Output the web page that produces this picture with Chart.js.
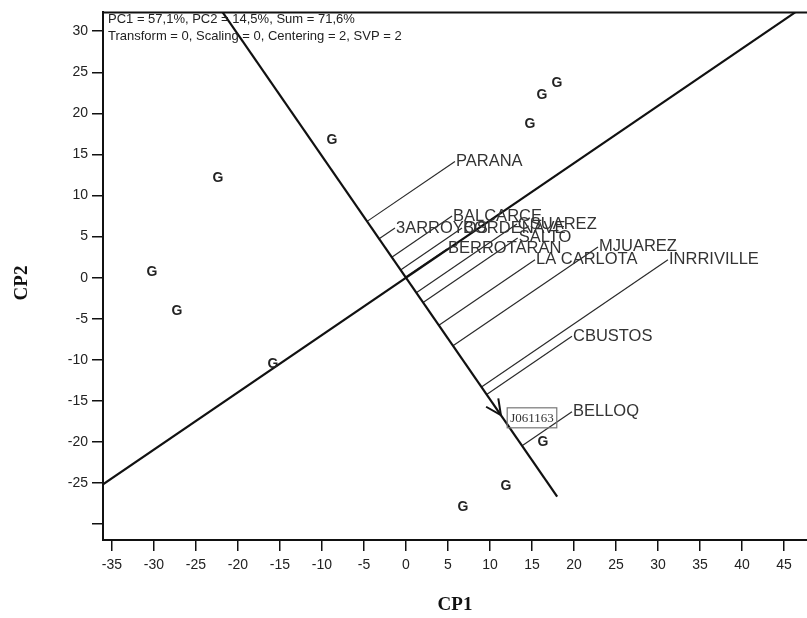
<!DOCTYPE html>
<html><head><meta charset="utf-8">
<script src="https://cdn.jsdelivr.net/npm/chart.js@4.4.0/dist/chart.umd.min.js"></script>
<style>html,body{margin:0;padding:0;background:#fff;}</style>
</head><body>
<canvas id="c" width="807" height="618"></canvas>
<script>
// ---- data ----
const xTicks = [-35,-30,-25,-20,-15,-10,-5,0,5,10,15,20,25,30,35,40,45];
const yTicks = [30,25,20,15,10,5,0,-5,-10,-15,-20,-25,-30];
const xRange = [-36.07, 47.74];
const yRange = [-31.92, 32.29];

const genoX = [17.98, 16.19, 14.76, -8.81, -22.38, -30.24, -27.26, -15.83, 16.31, 11.90, 6.79];
const genoY = [23.70, 22.25, 18.74, 16.69, 12.09, 0.73, -4.11, -10.52, -19.95, -25.39, -27.93];
const highlightName = 'J061163';
const highlightX = 15.0;
const highlightY = -17.05;

const envNames = ['PARANA','3ARROYOS','BALCARCE','BORDENAVE','CSUAREZ','SALTO','BERROTARAN','LA CARLOTA','MJUAREZ','INRRIVILLE','CBUSTOS','BELLOQ'];
const envX = [5.83, -1.31, 5.48, 6.67, 13.2, 13.3, 4.88, 15.36, 22.86, 31.19, 19.76, 19.76];
const envY = [14.15, 6.05, 7.50, 6.05, 6.53, 4.84, 3.51, 2.18, 3.75, 2.18, -7.13, -16.32];

const atcSlope = 0.697;     // average-environment axis through origin
const ordSlope = -1.48;     // perpendicular axis through origin
const ordEndX = 18.0;       // lower end of perpendicular axis
const arrowX = 11.3;        // arrow tip on perpendicular axis

const annot1 = 'PC1 = 57,1%, PC2 = 14,5%, Sum = 71,6%';
const annot2 = 'Transform = 0, Scaling = 0, Centering = 2, SVP = 2';

// ---- datasets ----
const lineStyle = {showLine:true, pointRadius:0, borderColor:'#111', borderWidth:2.2, fill:false};
const datasets = [];
datasets.push(Object.assign({data:[{x:xRange[0], y:atcSlope*xRange[0]}, {x:yRange[1]/atcSlope, y:yRange[1]}]}, lineStyle));
datasets.push(Object.assign({data:[{x:yRange[1]/ordSlope, y:yRange[1]}, {x:ordEndX, y:ordSlope*ordEndX}]}, lineStyle));
envNames.forEach((n,i)=>{
  const fx = (envY[i] - atcSlope*envX[i])/(ordSlope - atcSlope);
  const fy = ordSlope*fx;
  datasets.push({data:[{x:fx,y:fy},{x:envX[i],y:envY[i]}], showLine:true, pointRadius:0, borderColor:'#2a2a2a', borderWidth:1.2, fill:false});
});
datasets.push({data: genoX.map((x,i)=>({x, y:genoY[i]})), pointRadius:0, showLine:false});

const F = 'Liberation Sans, Arial, sans-serif';
const labelPlugin = {
  id:'labels',
  afterDraw(chart){
    const ctx = chart.ctx, xs = chart.scales.x, ys = chart.scales.y, ca = chart.chartArea;
    const px = v=>xs.getPixelForValue(v), py = v=>ys.getPixelForValue(v);
    ctx.save();
    // top border
    ctx.strokeStyle='#111'; ctx.lineWidth=2;
    ctx.beginPath(); ctx.moveTo(ca.left, ca.top); ctx.lineTo(ca.right, ca.top); ctx.stroke();
    // arrow
    const tx = px(arrowX), ty = py(ordSlope*arrowX);
    const dx = px(ordEndX)-px(0), dy = py(ordSlope*ordEndX)-py(0);
    const ang = Math.atan2(dy, dx);
    ctx.lineWidth=2;
    ctx.beginPath();
    ctx.moveTo(tx - 17*Math.cos(ang-0.45), ty - 17*Math.sin(ang-0.45));
    ctx.lineTo(tx, ty);
    ctx.lineTo(tx - 17*Math.cos(ang+0.45), ty - 17*Math.sin(ang+0.45));
    ctx.stroke();
    // genotype G labels
    ctx.fillStyle='#222'; ctx.font='bold 14px '+F; ctx.textAlign='center'; ctx.textBaseline='middle';
    genoX.forEach((x,i)=>ctx.fillText('G', px(x), py(genoY[i])));
    // highlighted genotype box
    ctx.font='13px Liberation Serif, Times New Roman, serif';
    const hx = px(highlightX), hy = py(highlightY);
    const w = ctx.measureText(highlightName).width + 6;
    ctx.fillStyle='#333'; ctx.fillText(highlightName, hx, hy+1);
    ctx.strokeStyle='#777'; ctx.lineWidth=1.2;
    ctx.strokeRect(hx - w/2, hy - 10, w, 20);
    // env labels
    ctx.font='16.5px '+F; ctx.textAlign='left'; ctx.fillStyle='#333';
    envNames.forEach((n,i)=>ctx.fillText(n, px(envX[i])+1, py(envY[i])));
    // annotation
    ctx.font='13px '+F; ctx.fillStyle='#222';
    ctx.fillText(annot1, ca.left+5, 19);
    ctx.fillText(annot2, ca.left+5, 36);
    // axis titles
    ctx.font='bold 19px Liberation Serif, Times New Roman, serif'; ctx.textAlign='center'; ctx.fillStyle='#111';
    ctx.fillText('CP1', (ca.left+ca.right)/2, 605);
    ctx.translate(22, 283); ctx.rotate(-Math.PI/2);
    ctx.fillText('CP2', 0, 0);
    ctx.restore();
  }
};

const tickCommon = {color:'#222', font:{family:'Liberation Sans', size:14}};
new Chart(document.getElementById('c'), {
  type:'scatter',
  data:{datasets},
  options:{
    responsive:false, animation:false, events:[],
    plugins:{legend:{display:false}, tooltip:{enabled:false}},
    layout:{padding:{top:9, right:0, left:0, bottom:0}},
    scales:{
      x:{type:'linear', min:xRange[0], max:xRange[1],
         afterBuildTicks:s=>{s.ticks = xTicks.map(v=>({value:v}));},
         afterFit:s=>{s.height = 78;},
         grid:{drawOnChartArea:false, drawTicks:true, tickLength:11, color:'#111', lineWidth:1.5},
         border:{display:true, color:'#111', width:2},
         ticks:Object.assign({padding:6, maxRotation:0, autoSkip:false}, tickCommon)},
      y:{type:'linear', min:yRange[0], max:yRange[1],
         afterBuildTicks:s=>{s.ticks = yTicks.map(v=>({value:v}));},
         afterFit:s=>{s.width = 103;},
         grid:{drawOnChartArea:false, drawTicks:true, tickLength:11, color:'#111', lineWidth:1.5},
         border:{display:true, color:'#111', width:2},
         ticks:Object.assign({padding:4, autoSkip:false, callback:v=> v===-30 ? '' : v}, tickCommon)}
    }
  },
  plugins:[labelPlugin]
});
</script>
</body></html>
